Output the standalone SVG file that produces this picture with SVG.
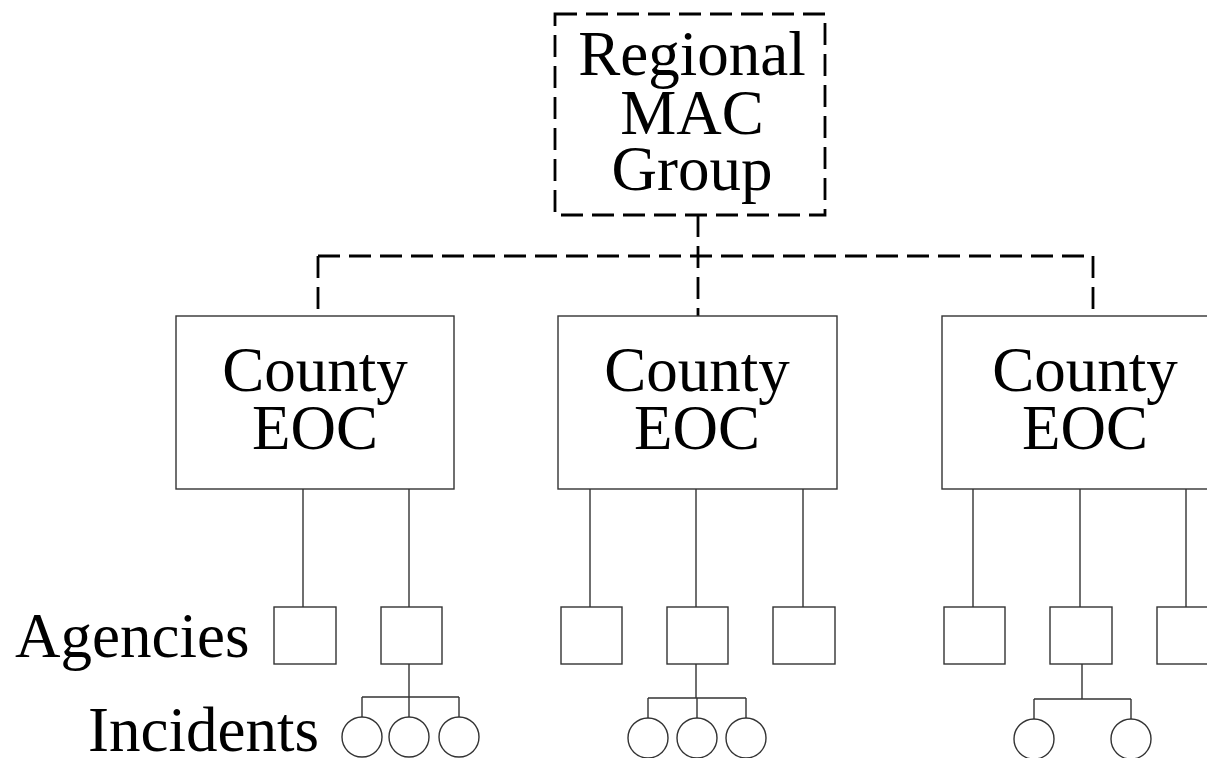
<svg xmlns="http://www.w3.org/2000/svg" width="1207" height="758" viewBox="0 0 1207 758">
<style>
text{font-family:"Liberation Serif","Times New Roman",serif;font-size:63px;fill:#000}
.c{text-anchor:middle}
.box{fill:#fff;stroke:#333;stroke-width:1.4}
.dash{fill:none;stroke:#000;stroke-width:2.8;stroke-dasharray:22 9}
.ln{fill:none;stroke:#333;stroke-width:1.4}
</style>
<rect width="1207" height="758" fill="#fff"/>
<g id="connectors">
<path class="dash" d="M698 215V316"/>
<path class="dash" d="M318 256H1093M318 256V311M1093 256V311"/>
<path class="ln" d="M303 489V607M409 489V607M590 489V607M696 489V607M803 489V607M973 489V607M1080 489V607M1186 489V607"/>
<path class="ln" d="M409 664V697M362 697H459M362 697V717M409 697V717M459 697V717"/>
<path class="ln" d="M696 664V698M648 698H746M648 698V718M697 698V718M746 698V718"/>
<path class="ln" d="M1082 664V699M1034 699H1131M1034 699V719M1131 699V719"/>
</g>
<g id="mac">
<rect x="555" y="14" width="270" height="201" class="dash" fill="#fff"/>
<text class="c" x="692" y="75">Regional</text>
<text class="c" x="692" y="134">MAC</text>
<text class="c" x="692" y="190">Group</text>
</g>
<g id="eoc1"><rect class="box" x="176" y="316" width="278" height="173"/><text class="c" x="315" y="391">County</text><text class="c" x="315" y="449">EOC</text></g>
<g id="eoc2"><rect class="box" x="558" y="316" width="279" height="173"/><text class="c" x="697" y="391">County</text><text class="c" x="697" y="449">EOC</text></g>
<g id="eoc3"><rect class="box" x="942" y="316" width="279" height="173"/><text class="c" x="1085" y="391">County</text><text class="c" x="1085" y="449">EOC</text></g>
<g id="labels">
<text x="15" y="657">Agencies</text>
<text x="88" y="751">Incidents</text>
</g>
<g id="agencies">
<rect class="box" x="274" y="607" width="62" height="57"/>
<rect class="box" x="381" y="607" width="61" height="57"/>
<rect class="box" x="561" y="607" width="61" height="57"/>
<rect class="box" x="667" y="607" width="61" height="57"/>
<rect class="box" x="773" y="607" width="62" height="57"/>
<rect class="box" x="944" y="607" width="61" height="57"/>
<rect class="box" x="1050" y="607" width="62" height="57"/>
<rect class="box" x="1157" y="607" width="61" height="57"/>
</g>
<g id="incidents">
<circle class="box" cx="362" cy="737" r="20"/>
<circle class="box" cx="409" cy="737" r="20"/>
<circle class="box" cx="459" cy="737" r="20"/>
<circle class="box" cx="648" cy="738" r="20"/>
<circle class="box" cx="697" cy="738" r="20"/>
<circle class="box" cx="746" cy="738" r="20"/>
<circle class="box" cx="1034" cy="739" r="20"/>
<circle class="box" cx="1131" cy="739" r="20"/>
</g>
</svg>
